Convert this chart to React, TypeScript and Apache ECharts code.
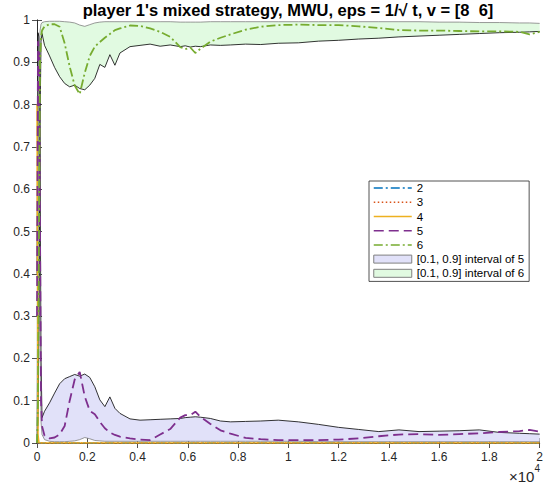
import React, { useEffect, useRef } from "react";
import * as echarts from "echarts";

// time steps (t)
const T = [0, 40, 80, 120, 160, 200, 300, 500, 700, 900, 1100, 1300, 1500, 1700, 1900, 2100, 2300, 2500, 2700, 2900, 3100, 3300, 3700, 4100, 4500, 4900, 5300, 5700, 5900, 6100, 6300, 6500, 6900, 7300, 7700, 8300, 8900, 9600, 10400, 11200, 12000, 12800, 13600, 14400, 15200, 16000, 16800, 17600, 18400, 19200, 19600, 20000];

const ZERO = T.map(() => 0);
const S2 = ZERO;
const S3 = ZERO;
const S4 = [0.8, 0.02, 0, 0, 0, 0, 0, 0, 0, 0, 0, 0, 0, 0, 0, 0, 0, 0, 0, 0, 0, 0, 0, 0, 0, 0, 0, 0, 0, 0, 0, 0, 0, 0, 0, 0, 0, 0, 0, 0, 0, 0, 0, 0, 0, 0, 0, 0, 0, 0, 0, 0];

const S5 = [0.3, 0.95, 0.92, 0.5, 0.1, 0.04, 0.017, 0.011, 0.013, 0.02, 0.04, 0.1, 0.15, 0.168, 0.11, 0.076, 0.068, 0.05, 0.035, 0.025, 0.019, 0.015, 0.011, 0.008, 0.007, 0.02, 0.033, 0.06, 0.066, 0.066, 0.074, 0.062, 0.045, 0.03, 0.022, 0.012, 0.009, 0.007, 0.007, 0.007, 0.008, 0.011, 0.016, 0.02, 0.021, 0.019, 0.021, 0.023, 0.026, 0.028, 0.031, 0.027];
const U5 = [0.4, 0.97, 0.96, 0.7, 0.2, 0.06, 0.075, 0.095, 0.118, 0.14, 0.152, 0.157, 0.162, 0.158, 0.163, 0.155, 0.133, 0.102, 0.086, 0.109, 0.082, 0.07, 0.057, 0.054, 0.055, 0.056, 0.057, 0.058, 0.06, 0.061, 0.062, 0.061, 0.058, 0.052, 0.05, 0.051, 0.052, 0.054, 0.05, 0.044, 0.037, 0.032, 0.027, 0.031, 0.027, 0.028, 0.029, 0.031, 0.025, 0.023, 0.022, 0.021];
const L5 = [0, 0.85, 0.8, 0.3, 0.05, 0.02, 0.008, 0.004, 0.003, 0.003, 0.003, 0.004, 0.005, 0.008, 0.013, 0.01, 0.006, 0.005, 0.004, 0.004, 0.004, 0.004, 0.004, 0.004, 0.004, 0.004, 0.004, 0.004, 0.004, 0.004, 0.004, 0.004, 0.004, 0.004, 0.004, 0.004, 0.004, 0.004, 0.004, 0.003, 0.003, 0.003, 0.003, 0.003, 0.003, 0.003, 0.003, 0.003, 0.003, 0.003, 0.003, 0.003];

const S6 = [0, 0.1, 0.5, 0.9, 0.96, 0.975, 0.985, 0.99, 0.99, 0.984, 0.945, 0.89, 0.845, 0.825, 0.875, 0.915, 0.937, 0.948, 0.958, 0.967, 0.976, 0.98, 0.987, 0.986, 0.98, 0.972, 0.96, 0.936, 0.931, 0.935, 0.922, 0.932, 0.949, 0.958, 0.966, 0.977, 0.984, 0.988, 0.989, 0.988, 0.988, 0.985, 0.981, 0.976, 0.975, 0.975, 0.974, 0.973, 0.973, 0.972, 0.966, 0.972];
const L6 = [0, 0.05, 0.3, 0.75, 0.95, 0.968, 0.94, 0.915, 0.888, 0.866, 0.85, 0.842, 0.846, 0.838, 0.835, 0.846, 0.862, 0.895, 0.888, 0.918, 0.893, 0.922, 0.937, 0.94, 0.943, 0.938, 0.941, 0.937, 0.939, 0.936, 0.938, 0.937, 0.941, 0.94, 0.941, 0.943, 0.942, 0.945, 0.946, 0.95, 0.952, 0.955, 0.957, 0.96, 0.962, 0.964, 0.966, 0.968, 0.97, 0.971, 0.972, 0.973];
const U6 = [0.01, 0.3, 0.85, 0.975, 0.99, 0.994, 0.996, 0.997, 0.997, 0.997, 0.996, 0.995, 0.993, 0.988, 0.985, 0.989, 0.993, 0.995, 0.996, 0.996, 0.996, 0.996, 0.996, 0.996, 0.996, 0.996, 0.996, 0.995, 0.995, 0.995, 0.995, 0.995, 0.996, 0.996, 0.996, 0.996, 0.996, 0.996, 0.996, 0.996, 0.996, 0.996, 0.996, 0.996, 0.996, 0.995, 0.995, 0.994, 0.994, 0.993, 0.993, 0.992];

const X_TICKS = [0, 0.2, 0.4, 0.6, 0.8, 1, 1.2, 1.4, 1.6, 1.8, 2];

const FONT = "'Liberation Sans', Arial, Helvetica, sans-serif";
const AX = "#262626";
const C2 = "#0072BD";
const C3 = "#D95319";
const C4 = "#EDB120";
const C5 = "#7E2F8E";
const C6 = "#77AC30";
const FILL5 = "#e1e1f9";
const FILL6 = "#e1fae1";
const EDGE_GRAY = "#808080";

const pairs = (ys: number[]) => T.map((t, i) => [t, ys[i]]);

function band(name: string, lower: number[], upper: number[], fill: string) {
  return {
    type: "custom",
    name,
    silent: true,
    clip: true,
    z: 1,
    itemStyle: { color: fill },
    data: [[T[0], lower[0]]],
    renderItem: (_p: any, api: any) => {
      const pts: number[][] = [];
      for (let i = 0; i < T.length; i++) pts.push(api.coord([T[i], upper[i]]));
      for (let i = T.length - 1; i >= 0; i--) pts.push(api.coord([T[i], lower[i]]));
      return { type: "polygon", shape: { points: pts }, style: { fill, stroke: "none" } };
    },
  };
}

function edge(ys: number[], color: string, width: number) {
  return {
    type: "line",
    name: "",
    data: pairs(ys),
    symbol: "none",
    silent: true,
    z: 2,
    lineStyle: { color, width },
    itemStyle: { color },
  };
}

function main(name: string, ys: number[], color: string, type: any, width: number) {
  return {
    type: "line",
    name,
    data: pairs(ys),
    symbol: "none",
    z: 3,
    lineStyle: { color, width, type },
    itemStyle: { color },
  };
}

export default function App() {
  const ref = useRef<HTMLDivElement>(null);
  useEffect(() => {
    document.body.style.margin = "0";
    const chart = echarts.init(ref.current!, null, { renderer: "svg" });
    const axisCommon = {
      type: "value",
      splitLine: { show: false },
      axisLine: { show: true, lineStyle: { color: AX, width: 0.8 } },
      axisTick: { show: true, inside: true, length: 5, lineStyle: { color: AX, width: 0.8 } },
    };
    const hiddenLegendIcon = { opacity: 0 };
    chart.setOption({
      animation: false,
      backgroundColor: "#fff",
      grid: { left: 37, right: 5, top: 20, bottom: 48 },
      xAxis: [
        {
          ...axisCommon,
          position: "bottom",
          min: 0,
          max: 20000,
          interval: 2000,
          axisLabel: {
            margin: 8,
            fontSize: 12,
            color: AX,
            fontFamily: FONT,
            formatter: (v: number) => String(X_TICKS[Math.round(v / 2000)]),
          },
        },
        {
          ...axisCommon,
          position: "top",
          min: 0,
          max: 20000,
          interval: 2000,
          axisLabel: { show: false },
        },
      ],
      yAxis: [
        {
          ...axisCommon,
          position: "left",
          min: 0,
          max: 1,
          interval: 0.1,
          axisLabel: { margin: 7, fontSize: 12, color: AX, fontFamily: FONT },
        },
        {
          ...axisCommon,
          position: "right",
          min: 0,
          max: 1,
          interval: 0.1,
          axisLabel: { show: false },
        },
      ],
      legend: {
        orient: "vertical",
        left: 369,
        top: 181,
        itemWidth: 38,
        itemHeight: 8,
        itemGap: 0,
        padding: [0, 5, 1, 4],
        borderColor: AX,
        borderWidth: 0.8,
        backgroundColor: "#fff",
        selectedMode: false,
        textStyle: { fontSize: 11.5, color: "#000", fontFamily: FONT, lineHeight: 14.2 },
        data: [
          { name: "2", itemStyle: hiddenLegendIcon, lineStyle: { width: 1.5 } },
          { name: "3", itemStyle: hiddenLegendIcon, lineStyle: { width: 1.5 } },
          { name: "4", itemStyle: hiddenLegendIcon, lineStyle: { width: 1.5 } },
          { name: "5", itemStyle: hiddenLegendIcon, lineStyle: { width: 1.5 } },
          { name: "6", itemStyle: hiddenLegendIcon, lineStyle: { width: 1.5 } },
          {
            name: "[0.1, 0.9] interval of 5",
            icon: "rect",
            itemStyle: { color: FILL5, borderColor: EDGE_GRAY, borderWidth: 1 },
          },
          {
            name: "[0.1, 0.9] interval of 6",
            icon: "rect",
            itemStyle: { color: FILL6, borderColor: EDGE_GRAY, borderWidth: 1 },
          },
        ],
      },
      graphic: [
        {
          type: "text",
          x: 288,
          y: 10,
          z: 10,
          style: {
            text: "player 1's mixed strategy, MWU, eps = 1/\u221A t, v = [8  6]",
            font: `bold 16.5px ${FONT}`,
            fill: "#000",
            textAlign: "center",
            textVerticalAlign: "middle",
          },
        },
        {
          type: "text",
          x: 509,
          y: 463,
          z: 10,
          style: {
            text: "{a|\u00D710}{b|4}",
            textVerticalAlign: "top",
            rich: {
              a: { fontSize: 15, fontFamily: FONT, fill: AX, padding: [6, 0, 0, 0] },
              b: { fontSize: 10, fontFamily: FONT, fill: AX, verticalAlign: "top" },
            },
          },
        },
      ],
      series: [
        band("[0.1, 0.9] interval of 5", L5, U5, FILL5),
        band("[0.1, 0.9] interval of 6", L6, U6, FILL6),
        edge(U5, "#000", 0.8),
        edge(L5, EDGE_GRAY, 0.8),
        edge(L6, "#000", 0.8),
        edge(U6, EDGE_GRAY, 0.8),
        main("2", S2, C2, [9, 3, 2, 3], 1.5),
        main("3", S3, C3, [1.5, 2.5], 1.5),
        main("4", S4, C4, "solid", 1.5),
        main("5", S5, C5, [10, 5], 1.8),
        main("6", S6, C6, [9, 3, 2, 3], 1.8),
      ],
    });
    return () => chart.dispose();
  }, []);
  return <div ref={ref} style={{ width: 546, height: 491 }} />;
}
